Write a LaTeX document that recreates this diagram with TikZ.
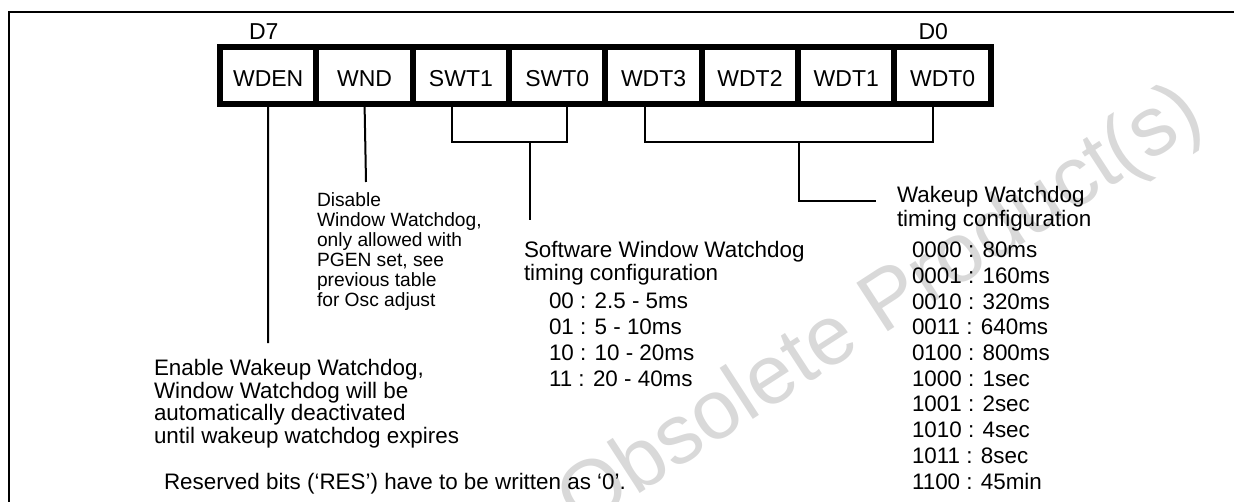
\documentclass[tikz,border=0pt]{standalone}
\usepackage{fontspec}
\setmainfont{Liberation Sans}
\usetikzlibrary{positioning}

\begin{document}
\begin{tikzpicture}[x=0.5pt,y=-0.5pt,line width=1pt,
  cell/.style={draw,line width=3pt,minimum width=48.175pt,minimum height=28.25pt,
               inner sep=0pt,outer sep=0pt,text height=11pt,text depth=0pt,
               font=\fontsize{11.5}{12}\selectfont},
  bitno/.style={inner sep=0pt,font=\fontsize{11.5}{12}\selectfont},
  note/.style={inner sep=0pt,align=left,anchor=base west,font=\fontsize{11.2}{11.25}\selectfont},
  small/.style={note,font=\fontsize{9.6}{10}\selectfont},
  codes/.style={note,font=\fontsize{11.2}{12.85}\selectfont}]

  \useasboundingbox (0,0) rectangle (1234,502);

  % watermark
  \node (mark) at (882,310) [rotate=33,text=black!15,font=\fontsize{42}{42}\selectfont] {Obsolete Product(s)};

  % frame
  \draw (1234,12) -- (9,12) -- (9,502);

  % register bits
  \node[cell]  (wden) at (268.2,75.75) {WDEN};
  \node[cell]   (wnd) [right=0pt of wden] {WND};
  \node[cell]  (swt1) [right=0pt of wnd]  {SWT1};
  \node[cell]  (swt0) [right=0pt of swt1] {SWT0};
  \node[cell]  (wdt3) [right=0pt of swt0] {WDT3};
  \node[cell]  (wdt2) [right=0pt of wdt3] {WDT2};
  \node[cell]  (wdt1) [right=0pt of wdt2] {WDT1};
  \node[cell]  (wdt0) [right=0pt of wdt1] {WDT0};

  \node[bitno,anchor=base west] (d7) at (248,40) {D7};
  \node[bitno,anchor=base east] (d0) at (949,40) {D0};

  % descriptions (placed by the baseline of their last line)
  \node[note]  (enable) at (153,443) {Enable Wakeup Watchdog,\\Window Watchdog will be\\automatically deactivated\\until wakeup watchdog expires};
  \node[small] (disable) at (316,306) {Disable\\Window Watchdog,\\only allowed with\\PGEN set, see\\previous table\\for Osc adjust};
  \node[note,font=\fontsize{11.2}{11.5}\selectfont] (swhead) at (523,280) {Software Window Watchdog\\timing configuration};
  \node[codes] (swlist) at (548,386) {00 : 2.5 - 5ms\\01 : 5 - 10ms\\10 : 10 - 20ms\\11 : 20 - 40ms};
  \node[note,font=\fontsize{11.2}{12}\selectfont] (wuhead) at (896,226) {Wakeup Watchdog\\timing configuration};
  \node[codes] (wulist) at (911,489) {0000 : 80ms\\0001 : 160ms\\0010 : 320ms\\0011 : 640ms\\0100 : 800ms\\1000 : 1sec\\1001 : 2sec\\1010 : 4sec\\1011 : 8sec\\1100 : 45min};
  \node[note]  (reserved) at (163,489) {Reserved bits (‘RES’) have to be written as ‘0’.};

  % connectors
  \coordinate (wdenend) at (268,343);
  \coordinate (wndend)  at (366,182);
  \coordinate (swtjoin) at (530,142);
  \coordinate (swtend)  at (530,220);
  \coordinate (wdtjoin) at (799,142);
  \coordinate (wdtend)  at (876,201);

  \draw (wden.south) -- (wdenend);
  \draw (wnd.south) -- (wndend);
  \draw ([xshift=-4.4pt]swt1.south) |- (swtjoin) -| ([xshift=5pt]swt0.south);
  \draw (swtjoin) -- (swtend);
  \draw ([xshift=-4.5pt]wdt3.south) |- (wdtjoin) -| ([xshift=-4.7pt]wdt0.south);
  \draw (wdtjoin) |- (wdtend);
\end{tikzpicture}
\end{document}
